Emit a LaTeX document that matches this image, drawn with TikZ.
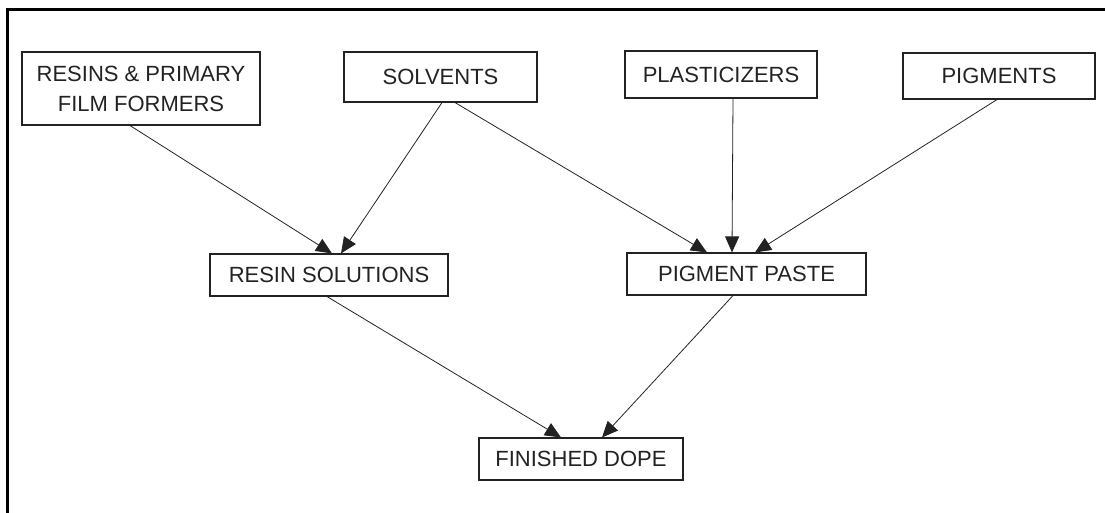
\documentclass[tikz,border=0pt]{standalone}
\usepackage{fontspec}
\setmainfont{Liberation Sans}
\usetikzlibrary{arrows.meta}
\definecolor{ink}{HTML}{222222}
\tikzset{
  box/.style={draw=ink, line width=1.1pt, rectangle, inner sep=0pt, align=center,
    text=ink, font=\fontsize{22}{30}\selectfont},
  arr/.style={draw=ink, line width=0.8pt, -{Triangle[length=16pt,width=14pt]}},
  frame/.style={draw=black, line width=3pt}
}
\begin{document}
\begin{tikzpicture}[x=1pt,y=-1pt]
\useasboundingbox (0,0) rectangle (1105,513);
\coordinate (fbl) at (7.5,520);
\coordinate (ftl) at (7.5,9.5);
\coordinate (ftr) at (1110,9.5);
\draw[frame] (fbl) -- (ftl) -- (ftr);

\node[box, minimum width=238pt, minimum height=73pt] (resins) at (141,88.5) {RESINS \& PRIMARY\\FILM FORMERS};
\node[box, minimum width=193pt, minimum height=50pt] (solv) at (440.5,77) {SOLVENTS};
\node[box, minimum width=192pt, minimum height=47pt] (plast) at (721,74.5) {PLASTICIZERS};
\node[box, minimum width=192pt, minimum height=46pt] (pigm) at (999,76) {PIGMENTS};
\node[box, minimum width=238pt, minimum height=42pt] (rsol) at (329,275) {RESIN SOLUTIONS};
\node[box, minimum width=239pt, minimum height=42pt] (ppaste) at (746.5,274) {PIGMENT PASTE};
\node[box, minimum width=204pt, minimum height=42pt] (dope) at (581,459) {FINISHED DOPE};

\draw[arr] ([xshift=-11pt]resins.south) -- ([xshift=3pt]rsol.north);
\draw[arr] ([xshift=1.5pt]solv.south) -- ([xshift=12pt]rsol.north);
\draw[arr] ([xshift=14.5pt]solv.south) -- ([xshift=-39.5pt]ppaste.north);
\draw[arr] ([xshift=12pt]plast.south) -- ([xshift=-14.5pt]ppaste.north);
\draw[arr] ([xshift=-2pt]pigm.south) -- ([xshift=8.5pt]ppaste.north);
\draw[arr] ([xshift=-2pt]rsol.south) -- ([xshift=-20pt]dope.north);
\draw[arr] ([xshift=-13.5pt]ppaste.south) -- ([xshift=21pt]dope.north);
\end{tikzpicture}
\end{document}
